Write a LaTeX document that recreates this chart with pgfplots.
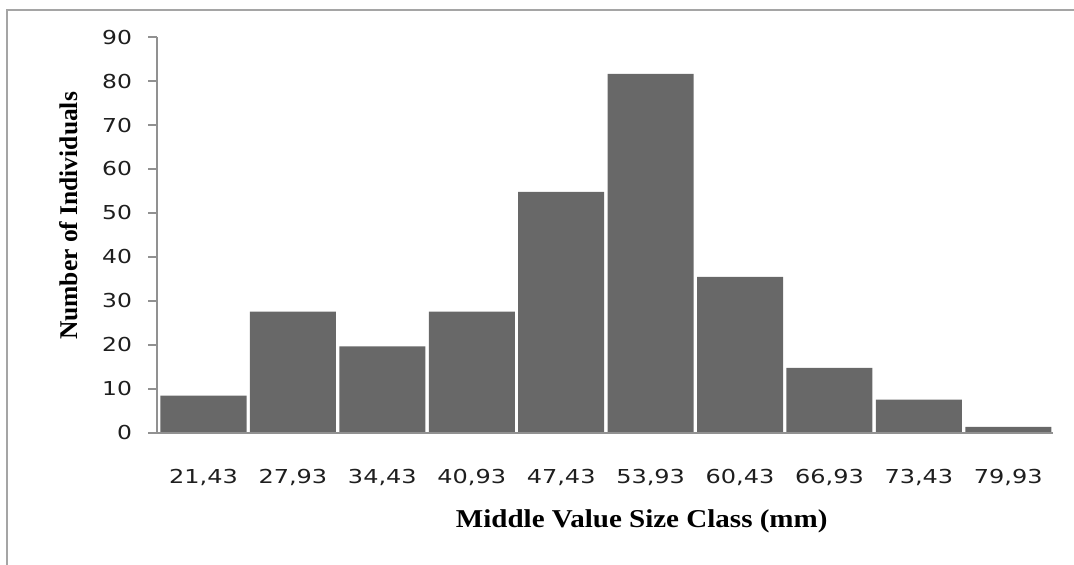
\documentclass[border=0pt]{standalone}
\usepackage{fontspec}
\usepackage{graphicx}
\usepackage{pgfplots}
\pgfplotsset{compat=1.18}
\newfontfamily\tickfont{DejaVu Sans}
\newfontfamily\labfont{Liberation Serif}
\definecolor{barfill}{RGB}{104,104,104}
\definecolor{axgray}{RGB}{145,145,145}
\definecolor{framegray}{RGB}{165,165,165}
\definecolor{ticktext}{RGB}{30,30,30}
\newcommand{\sx}[1]{\scalebox{1.25}[1]{#1}}
\begin{document}
\begin{tikzpicture}
\path[use as bounding box] (0pt,0pt) rectangle (537pt,-282.5pt);
\draw[framegray, line width=1pt] (3.5pt,-290pt) -- (3.5pt,-5pt) -- (545pt,-5pt);
\begin{axis}[
  at={(78.5pt,-216.5pt)}, anchor=south west,
  scale only axis, width=448pt, height=198pt,
  xmin=-0.52, xmax=9.5, ymin=0, ymax=90,
  axis x line*=bottom, axis y line*=left,
  axis line style={axgray, line width=0.9pt},
  axis on top,
  ytick={0,10,...,90},
  xtick={0,...,9},
  xticklabels={{\sx{21,43}},{\sx{27,93}},{\sx{34,43}},{\sx{40,93}},{\sx{47,43}},{\sx{53,93}},{\sx{60,43}},{\sx{66,93}},{\sx{73,43}},{\sx{79,93}}},
  /pgf/number format/assume math mode=true,
  yticklabel={\scalebox{1.22}[1]{\pgfmathprintnumber{\tick}}},
  tick align=outside,
  major tick length=4.5pt,
  xtick style={draw=none},
  ytick style={axgray, line width=0.9pt},
  tick label style={font=\tickfont\fontsize{9.6}{11}\selectfont, text=ticktext},
  xticklabel style={anchor=center, yshift=-17.5pt},
  yticklabel style={xshift=-4.5pt},
  ylabel={Number of Individuals},
  ylabel style={at={(axis description cs:-0.099,0.548)}, anchor=center, font=\labfont\bfseries\fontsize{12.75}{14}\selectfont},
  xlabel={\scalebox{1.13}[1]{Middle Value Size Class (mm)}},
  xlabel style={at={(axis description cs:0.541,-0.222)}, anchor=center, font=\labfont\bfseries\fontsize{12.85}{14}\selectfont},
]
\addplot[ybar, bar width=0.962, bar shift=0, fill=barfill, draw=none]
  coordinates {(0,8.5) (1,27.6) (2,19.7) (3,27.6) (4,54.8) (5,81.6) (6,35.5) (7,14.8) (8,7.6) (9,1.4)};
\end{axis}
\end{tikzpicture}
\end{document}
